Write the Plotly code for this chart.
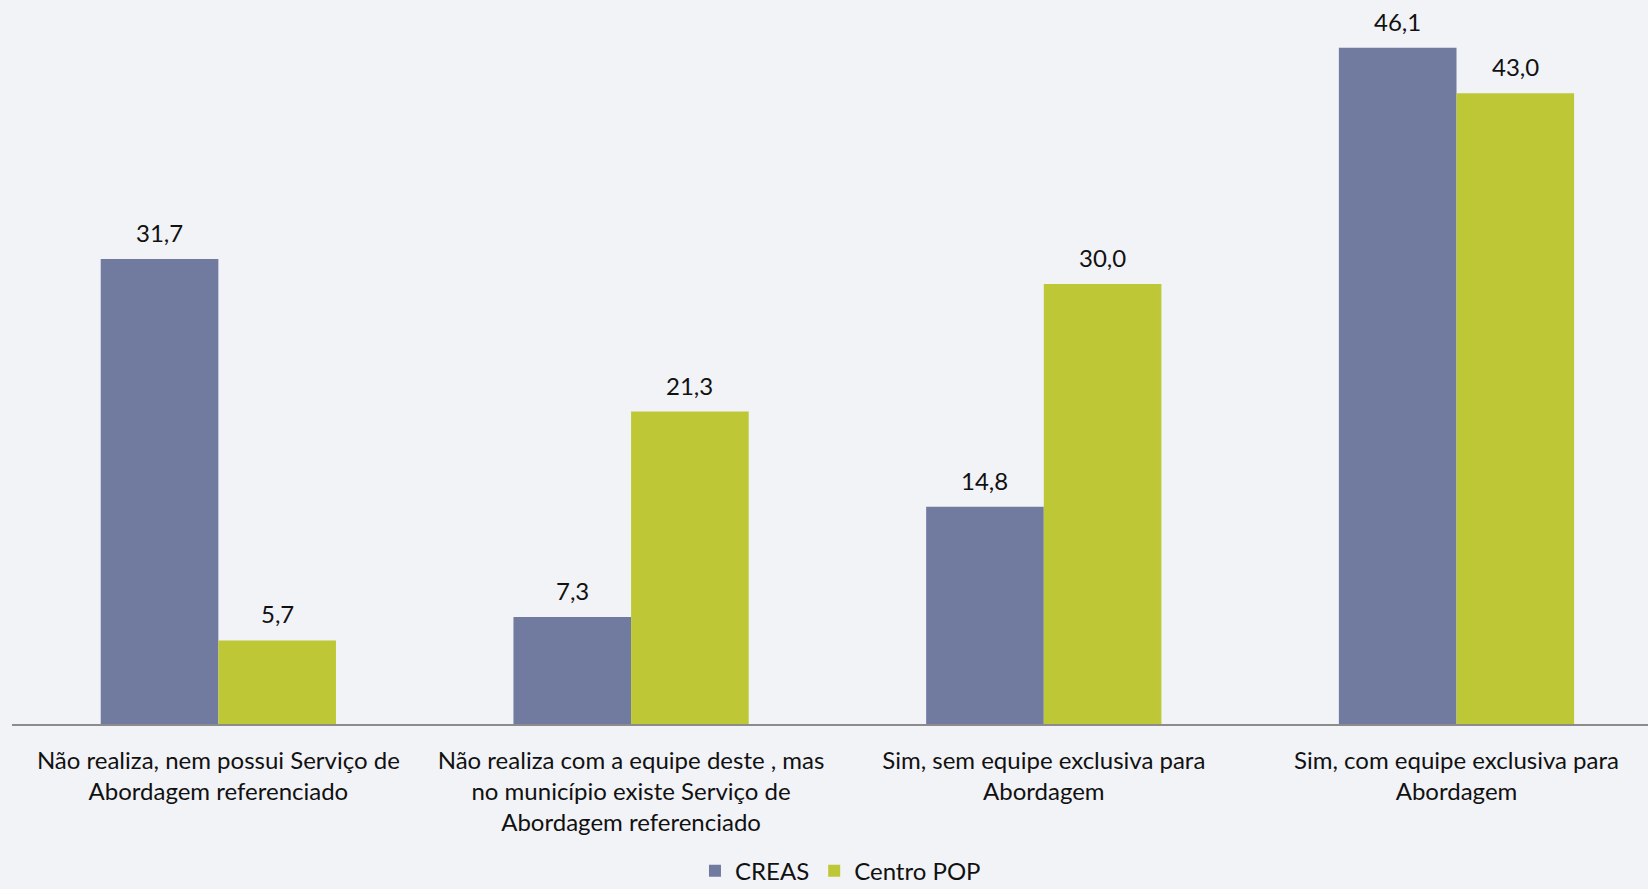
import plotly.graph_objects as go

categories = [
    "Não realiza, nem possui Serviço de<br>Abordagem referenciado",
    "Não realiza com a equipe deste , mas<br>no município existe Serviço de<br>Abordagem referenciado",
    "Sim, sem equipe exclusiva para<br>Abordagem",
    "Sim, com equipe exclusiva para<br>Abordagem",
]
creas = [31.7, 7.3, 14.8, 46.1]
centro_pop = [5.7, 21.3, 30.0, 43.0]

FONT = "Lato"
x_idx = list(range(len(categories)))
group_w = 0.57
half = group_w / 4

def fmt(v):
    return f"{v:.1f}".replace(".", ",")

fig = go.Figure()
fig.add_trace(go.Bar(x=x_idx, y=creas, name="CREAS", marker=dict(color="#717BA0", line=dict(width=0))))
fig.add_trace(go.Bar(x=x_idx, y=centro_pop, name="Centro POP", marker=dict(color="#BEC837", line=dict(width=0))))

for i, v in enumerate(creas):
    fig.add_annotation(x=i - half, y=v, text=fmt(v), showarrow=False, yanchor="bottom", yshift=10,
                       font=dict(family=FONT, size=24, color="#111"))
for i, v in enumerate(centro_pop):
    fig.add_annotation(x=i + half, y=v, text=fmt(v), showarrow=False, yanchor="bottom", yshift=10,
                       font=dict(family=FONT, size=24, color="#111"))

fig.update_layout(
    width=1648, height=889,
    margin=dict(l=12, r=0, t=0, b=165),
    paper_bgcolor="#F2F3F7", plot_bgcolor="rgba(0,0,0,0)",
    barmode="group", bargap=1 - group_w, bargroupgap=0,
    font=dict(family=FONT, size=24, color="#111"),
    showlegend=True,
    legend=dict(orientation="h", xref="container", yref="container", x=0.51, y=0.02,
                xanchor="center", yanchor="middle", font=dict(family=FONT, size=24, color="#111"),
                bgcolor="rgba(0,0,0,0)", itemsizing="constant"),
    xaxis=dict(tickmode="array", tickvals=x_idx, ticktext=categories, range=[-0.5, 3.464],
               showline=True, linecolor="#8C8C8C", linewidth=2, showgrid=False, zeroline=False,
               ticks="outside", ticklen=14, tickcolor="rgba(0,0,0,0)",
               tickfont=dict(family=FONT, size=24, color="#111")),
    yaxis=dict(range=[0, 49.35], visible=False, showgrid=False, zeroline=False),
)

fig.write_html(
    "out.html",
    config={"displayModeBar": False},
    post_script="document.body.style.margin='0';document.body.style.background='#F2F3F7';document.body.style.overflow='hidden';",
)
